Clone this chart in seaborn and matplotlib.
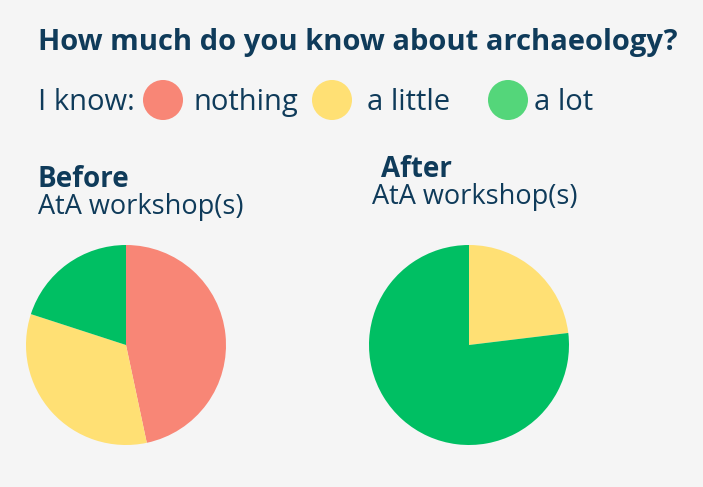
import matplotlib
matplotlib.use("Agg")
import matplotlib.pyplot as plt
import seaborn as sns

# Data: number of answers per level
levels = ["nothing", "a little", "a lot"]
before_counts = [7, 5, 3]
after_counts = [0, 3, 10]
pie_colors = ["#F88676", "#FFE074", "#00BF63"]
legend_colors = ["#F88676", "#FFE074", "#54D67A"]

title = "How much do you know about archaeology?"
subtitle = "AtA workshop(s)"

navy = "#0F3B5A"
bg = "#F5F5F5"

sns.set_theme(style="white")
plt.rcParams["font.family"] = ["Open Sans", "DejaVu Sans"]

fig = plt.figure(figsize=(7.03, 4.87), dpi=100)
fig.patch.set_facecolor(bg)

# overlay axes in pixel coordinates for the texts and legend
lay = fig.add_axes([0, 0, 1, 1])
lay.set_xlim(0, 703)
lay.set_ylim(487, 0)
lay.axis("off")
lay.patch.set_alpha(0)

lay.text(38, 50, title, fontsize=21, fontweight="bold", color=navy, va="baseline")

lay.text(38, 110, "I know:", fontsize=21, color=navy, va="baseline")
marker_x = [163, 332, 508]
label_x = [193, 367, 534]
for lab, col, mx, lx in zip(levels, legend_colors, marker_x, label_x):
    lay.scatter([mx], [100], s=830, color=col, edgecolor="none")
    lay.text(lx, 110, lab, fontsize=21, color=navy, va="baseline")

lay.text(38, 187, "Before", fontsize=20, fontweight="bold", color=navy, va="baseline")
lay.text(38, 214, subtitle, fontsize=19.5, color=navy, va="baseline")
lay.text(381, 177, "After", fontsize=20, fontweight="bold", color=navy, va="baseline")
lay.text(372, 204, subtitle, fontsize=19.5, color=navy, va="baseline")

# pie axes: 200x200 px each
ax1 = fig.add_axes([26 / 703, 42 / 487, 200 / 703, 200 / 487])
ax2 = fig.add_axes([369 / 703, 42 / 487, 200 / 703, 200 / 487])
for ax, counts in [(ax1, before_counts), (ax2, after_counts)]:
    ax.pie(counts, colors=pie_colors, startangle=90, counterclock=False,
           wedgeprops=dict(linewidth=0))
    ax.set_xlim(-1, 1)
    ax.set_ylim(-1, 1)
    ax.set_aspect("equal")
    ax.patch.set_alpha(0)

fig.savefig("out.png", dpi=100, facecolor=bg)
